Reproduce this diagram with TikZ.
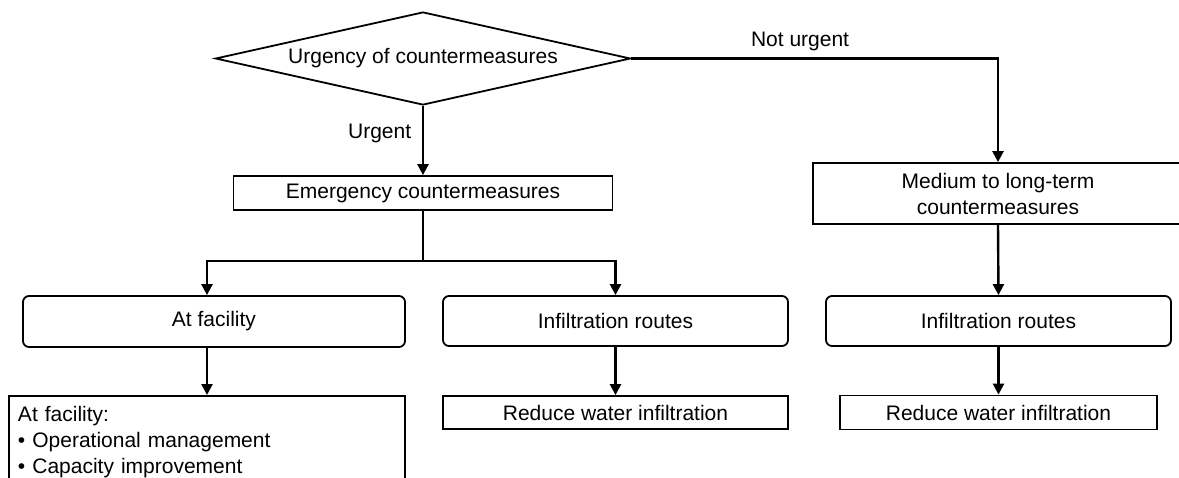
\documentclass[tikz,border=0pt]{standalone}
\usepackage{fontspec}
\setmainfont{Liberation Sans}
\usetikzlibrary{arrows.meta, shapes.geometric}

\begin{document}
\begin{tikzpicture}[x=0.5pt, y=-0.5pt,
  every node/.style={font=\fontsize{10.5pt}{13pt}\selectfont},
  box/.style={draw, line width=0.9pt, inner sep=0pt, align=center},
  roundbox/.style={box, rounded corners=3pt},
  decision/.style={box, diamond, aspect=4.5},
  flow/.style={-{Triangle[length=5.5pt, width=5.5pt]}, line width=1.2pt},
  joint/.style={line width=1.2pt}]
  \useasboundingbox (0,0) rectangle (1179,477);
  % decision and first level
  \node[decision, minimum width=207.5pt, minimum height=46.5pt] (urgency) at (423,58.5) {Urgency of countermeasures};
  \node[box, minimum width=189.5pt, minimum height=17pt] (emergency) at (423,193) {Emergency countermeasures};
  \node[box, minimum width=185pt, minimum height=30.5pt] (medium) at (998,193.5) {Medium to long-term\\countermeasures};
  % second level
  \node[roundbox, minimum width=191pt, minimum height=25.5pt] (facility) at (214,321.5) {At facility};
  \node[roundbox, minimum width=172.5pt, minimum height=25pt] (infil1) at (615.5,321) {Infiltration routes};
  \node[roundbox, minimum width=172.5pt, minimum height=25pt] (infil2) at (998.5,321) {Infiltration routes};
  % third level
  \node[box, anchor=north, align=left, text width=189pt, inner xsep=4.5pt, inner ysep=5pt] (detail) at (207,395) {At facility:\\• Operational management\\• Capacity improvement};
  \node[box, minimum width=172.5pt, minimum height=16.5pt] (reduce1) at (615.5,412.5) {Reduce water infiltration};
  \node[box, minimum width=158.5pt, minimum height=17pt] (reduce2) at (998.5,412.5) {Reduce water infiltration};
  \coordinate (split) at (423,261);

  \draw[flow] (urgency.east) -| (medium.north) node[pos=0.23, above] {Not urgent};
  \draw[flow] (urgency.south) -- (emergency.north) node[pos=0.4, left=2pt] {Urgent};
  \draw[joint] (emergency.south) -- (split);
  \draw[flow] (split) -| (detail.north |- facility.north);
  \draw[flow] (split) -| (infil1.north);
  \draw[flow] (detail.north |- facility.south) -- (detail.north);
  \draw[flow] (infil1.south) -- (reduce1.north);
  \draw[flow] (medium.south) -- (infil2.north);
  \draw[flow] (infil2.south) -- (reduce2.north);
\end{tikzpicture}
\end{document}
